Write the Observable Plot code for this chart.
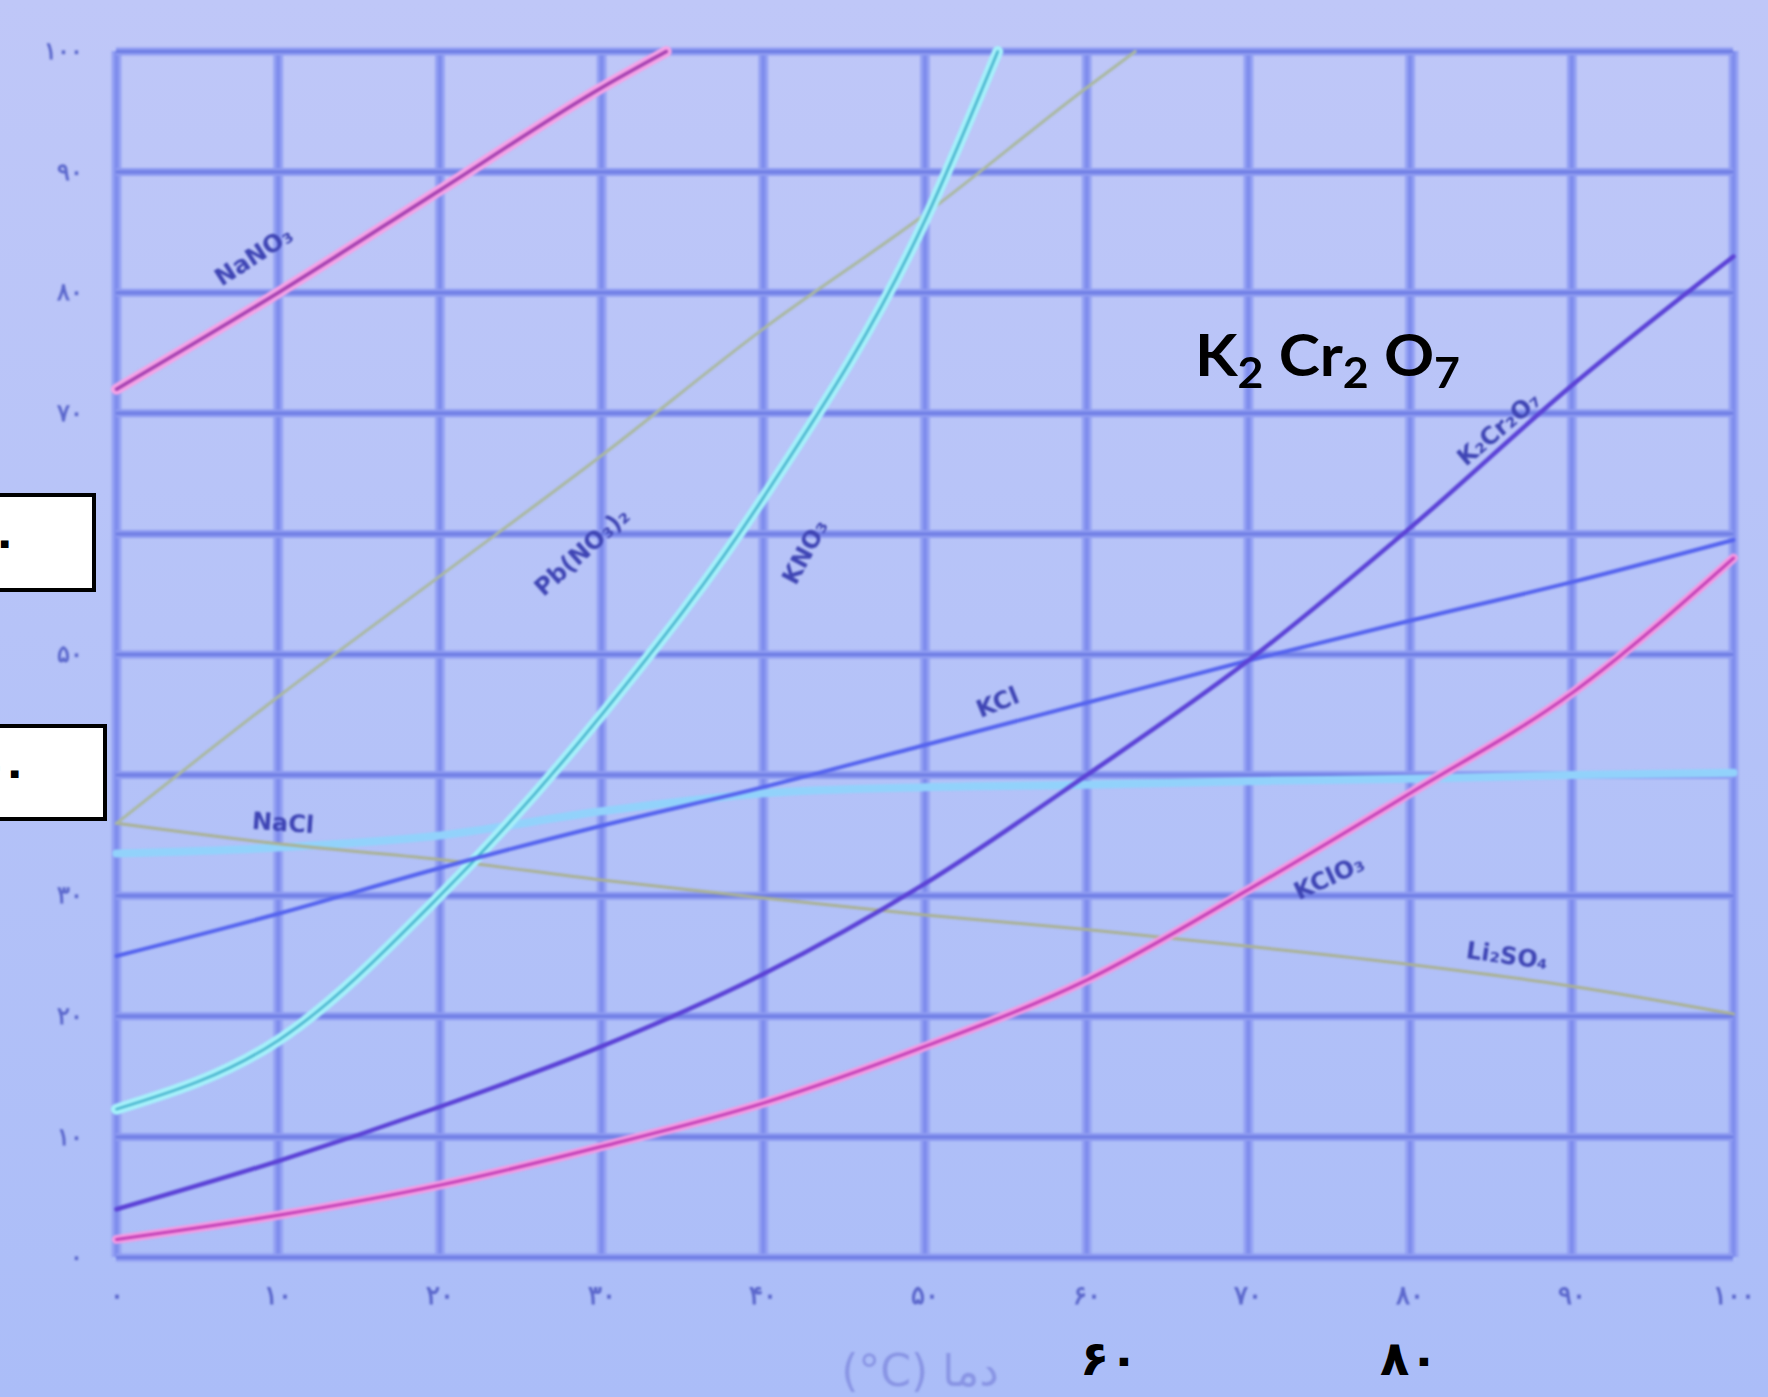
<!DOCTYPE html>
<html>
<head>
<meta charset="utf-8">
<script src="https://cdn.jsdelivr.net/npm/d3@7"></script>
<script src="https://cdn.jsdelivr.net/npm/@observablehq/plot@0.6"></script>
<style>
  html, body { margin: 0; padding: 0; }
  body {
    width: 1768px; height: 1397px; overflow: hidden;
    background: linear-gradient(180deg, #bfc7f8 0%, #b6c3f8 45%, #abbdf8 100%);
    font-family: "DejaVu Sans", sans-serif;
  }
  #wrap { position: relative; width: 1768px; height: 1397px; }
  #chart svg { position: absolute; left: 0; top: 0; filter: blur(1.2px); }
  .ov { position: absolute; color: #000; font-weight: bold; white-space: nowrap; }
  .box { position: absolute; background: #fff; border: 4px solid #000; box-sizing: border-box; overflow: hidden; }
  .ov sub { font-size: 0.72em; vertical-align: -0.3em; }
</style>
</head>
<body>
<div id="wrap"><div id="chart"></div></div>
<script>
// ---- data (g solute per 100 g water vs temperature °C) ----
const temps = [0, 10, 20, 30, 40, 50, 60, 70, 80, 90, 100];
const kclValues      = [25, 28.5, 32.3, 35.8, 39, 42.5, 46, 49.5, 52.8, 56, 59.5];
const k2cr2o7Values  = [4, 8, 12.5, 17.5, 23.5, 31, 40, 49.5, 60.5, 72.3, 83];
const kclo3Values    = [1.5, 3.5, 6, 9.2, 12.8, 17.5, 23, 30.5, 38.5, 46.8, 58];
const li2so4Values   = [36, 34.3, 33, 31.3, 29.8, 28.4, 27.2, 25.8, 24.3, 22.5, 20.2];
const naclValues     = [33.5, 34, 35, 37, 38.5, 39, 39.2, 39.5, 39.7, 40, 40.2];
const nano3Temps     = [0, 10, 20, 30, 34];
const nano3Values    = [72, 80, 88.5, 97, 100];
const kno3Temps      = [0, 10, 20, 30, 40, 50, 54.5];
const kno3Values     = [12.3, 18, 30, 45, 63, 86, 100];
const pbTemps        = [0, 10, 20, 30, 40, 50, 60, 63];
const pbValues       = [36, 46.5, 56.5, 66.5, 77, 86.5, 97, 100];

// ---- ticks ----
const xTicks = [0, 10, 20, 30, 40, 50, 60, 70, 80, 90, 100];
const yTicks = [0, 10, 20, 30, 40, 50, 60, 70, 80, 90, 100];
const xTickLabels = ["۰", "۱۰", "۲۰", "۳۰", "۴۰", "۵۰", "۶۰", "۷۰", "۸۰", "۹۰", "۱۰۰"];
const yTickLabels = ["۰", "۱۰", "۲۰", "۳۰", "۴۰", "۵۰", "۶۰", "۷۰", "۸۰", "۹۰", "۱۰۰"];

// ---- curve labels (placed in data units) ----
const labelNames  = ["NaNO₃", "Pb(NO₃)₂", "KNO₃", "NaCl", "KCl", "K₂Cr₂O₇", "KClO₃", "Li₂SO₄"];
const labelX      = [8.5, 28.8, 42.6, 10.3, 54.5, 85.5, 75, 86];
const labelY      = [83, 58.5, 58.5, 36, 46, 68.7, 31.5, 25];
const labelRotate = [-33, -42, -62, 4, -22, -40, -25, 8];

const xTitle = "(°C) دما";

// ---- build series ----
const series = (t, v) => t.map((d, i) => ({t: d, v: v[i]}));
const kcl = series(temps, kclValues);
const k2 = series(temps, k2cr2o7Values);
const kclo3 = series(temps, kclo3Values);
const li = series(temps, li2so4Values);
const nacl = series(temps, naclValues);
const nano3 = series(nano3Temps, nano3Values);
const kno3 = series(kno3Temps, kno3Values);
const pb = series(pbTemps, pbValues);
const labels = labelNames.map((n, i) => ({n, x: labelX[i], y: labelY[i], r: labelRotate[i]}));

const L = (data, stroke, w, extra = {}) =>
  Plot.line(data, {x: "t", y: "v", stroke, strokeWidth: w, curve: "monotone-x", strokeLinecap: "round", ...extra});

const chart = Plot.plot({
  width: 1768,
  height: 1397,
  marginLeft: 116,
  marginRight: 35,
  marginTop: 51,
  marginBottom: 140,
  x: {domain: [0, 100]},
  y: {domain: [0, 100]},
  style: {background: "transparent", overflow: "visible"},
  marks: [
    Plot.ruleX(xTicks, {stroke: "#95a2f3", strokeWidth: 10}),
    Plot.ruleX(xTicks, {stroke: "#7e8ced", strokeWidth: 4}),
    Plot.ruleY(yTicks, {stroke: "#8e9bf1", strokeWidth: 8}),
    Plot.ruleY(yTicks, {stroke: "#6e7de4", strokeWidth: 3}),
    Plot.axisX(xTicks, {tickSize: 0, tickPadding: 28, fontSize: 26, fontWeight: "bold", fill: "#5c68cc",
      tickFormat: d => xTickLabels[xTicks.indexOf(d)], label: null}),
    Plot.axisY(yTicks, {tickSize: 0, tickPadding: 34, fontSize: 24, fontWeight: "bold", fill: "#5c68cc",
      tickFormat: d => yTickLabels[yTicks.indexOf(d)], label: null}),
    // curves
    L(nacl, "#92d2fb", 8),
    L(li, "#a9b193", 3),
    L(pb, "#a9b89f", 3),
    L(kno3, "#a6f0fa", 11),
    L(kno3, "#45b3cc", 2.5),
    L(kcl, "#5563ee", 4),
    L(k2, "#5b42d6", 4.5),
    L(kclo3, "#f39be3", 9),
    L(kclo3, "#c23fb6", 3),
    L(nano3, "#f5a3e6", 11),
    L(nano3, "#a43fb0", 3.5),
    Plot.text(labels, {x: "x", y: "y", text: "n", rotate: "r", fontSize: 24, fontWeight: "bold",
      fill: "#3f45b4", fontFamily: "DejaVu Sans"}),
    Plot.text([xTitle], {frameAnchor: "bottom", dy: 128, dx: -5, text: d => d, fontSize: 44,
      fill: "#8995e4", fontFamily: "DejaVu Sans"})
  ]
});
document.getElementById("chart").appendChild(chart);

// ---- sharp overlays added on the photo ----
const wrap = document.getElementById("wrap");
function addDiv(cls, style, html) {
  const d = document.createElement("div");
  d.className = cls;
  Object.assign(d.style, style);
  d.innerHTML = html;
  wrap.appendChild(d);
  return d;
}
addDiv("ov", {left: "1195px", top: "326px", fontSize: "57px", lineHeight: "57px",
  fontFamily: "Lato, 'Open Sans', sans-serif", transform: "scaleX(1.09)", transformOrigin: "0 0"},
  'K<sub>2</sub> Cr<sub>2</sub> O<sub>7</sub>');
addDiv("ov", {left: "1080px", top: "1334px", fontSize: "48px", lineHeight: "48px", fontFamily: "'DejaVu Sans', sans-serif"}, "۶۰");
addDiv("ov", {left: "1380px", top: "1334px", fontSize: "48px", lineHeight: "48px", fontFamily: "'DejaVu Sans', sans-serif"}, "۸۰");
addDiv("box", {left: "-6px", top: "493px", width: "102px", height: "99px"}, "");
addDiv("ov", {right: (1768 - 18) + "px", top: "520px", fontSize: "44px", lineHeight: "44px", fontFamily: "'DejaVu Sans', sans-serif"}, "۶۰");
addDiv("box", {left: "-6px", top: "724px", width: "113px", height: "97px"}, "");
addDiv("ov", {right: (1768 - 28) + "px", top: "750px", fontSize: "44px", lineHeight: "44px", fontFamily: "'DejaVu Sans', sans-serif"}, "۴۰");
</script>
</body>
</html>
